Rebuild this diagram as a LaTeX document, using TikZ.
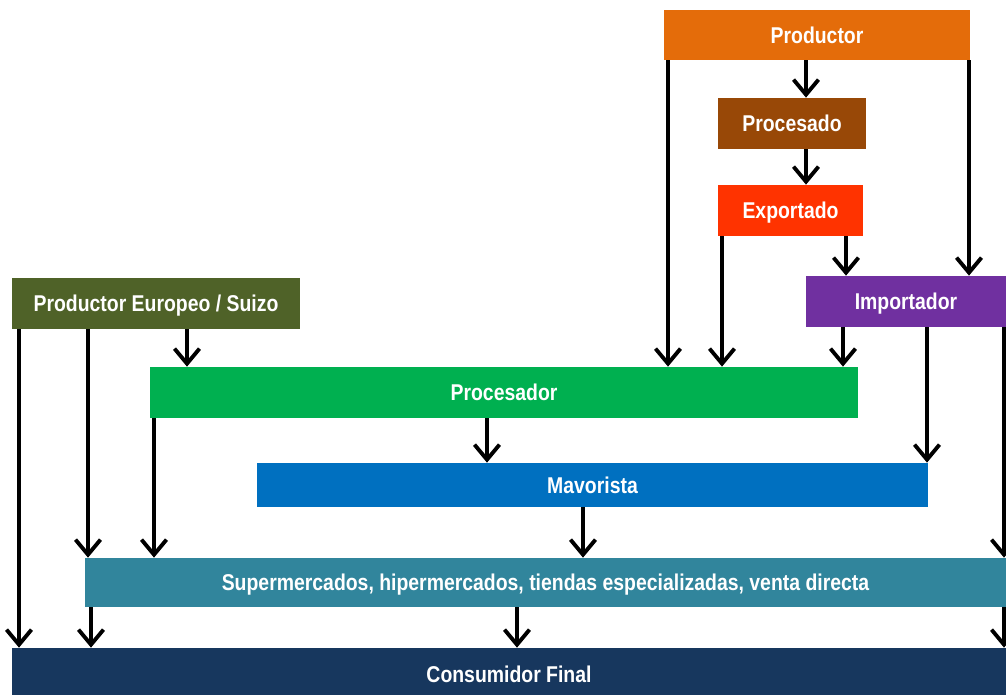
\documentclass[tikz,border=0pt]{standalone}
\usepackage{fontspec}
\setmainfont{Liberation Sans}[FakeStretch=0.85]
\usepackage{xcolor}
\usetikzlibrary{positioning,arrows.meta,calc}

\definecolor{cProd}{HTML}{E46C0A}
\definecolor{cProc}{HTML}{984807}
\definecolor{cExpo}{HTML}{FF3300}
\definecolor{cEuro}{HTML}{4F6228}
\definecolor{cImpo}{HTML}{7030A0}
\definecolor{cProcr}{HTML}{00B050}
\definecolor{cMayo}{HTML}{0070C0}
\definecolor{cSuper}{HTML}{31859C}
\definecolor{cCons}{HTML}{17375E}

\begin{document}
\begin{tikzpicture}[x=0.02cm,y=-0.02cm,
  every node/.style={rectangle,inner sep=0pt,text=white,
    font=\fontsize{13}{15}\selectfont\bfseries,text height=9.3pt,text depth=0pt},
  boxnode/.style={minimum height=51*0.02cm},
  lownode/.style={text depth=-2.6pt},
  arr/.style={draw=black,line width=2.2pt,
    -{Straight Barb[length=3mm,width=5mm,line width=2.2pt]}}
]
\useasboundingbox (0,0) rectangle (1006,694);
\clip (0,0) rectangle (1006,694);

% the boxes
\node[boxnode,fill=cProd,minimum width=306*0.02cm,minimum height=50*0.02cm] (prod) at (817,35) {Productor};
\node[boxnode,fill=cProc,minimum width=148*0.02cm] (proc) at (792,123.5) {Procesado};
\node[boxnode,fill=cExpo,minimum width=145*0.02cm] (expo) at (790.5,210.5) {Exportado};
\node[boxnode,fill=cEuro,minimum width=288*0.02cm] (euro) at (156,303.5) {Productor Europeo / Suizo};
\node[boxnode,fill=cImpo,minimum width=200*0.02cm] (impo) at (906,301.5) {Importador};
\node[boxnode,fill=cProcr,minimum width=708*0.02cm] (procr) at (504,392.5) {Procesador};
\node[boxnode,lownode,fill=cMayo,minimum width=671*0.02cm,minimum height=44*0.02cm] (mayo) at (592.5,485) {Mavorista};
\node[boxnode,lownode,fill=cSuper,minimum width=921*0.02cm,minimum height=49*0.02cm] (super) at (545.5,582.5)
  {Supermercados, hipermercados, tiendas especializadas, venta directa};
\node[boxnode,fill=cCons,minimum width=994*0.02cm,minimum height=52*0.02cm] (cons) at (509,674) {Consumidor Final};

% the arrows
\draw[arr] (prod.south -| 806,0) -- (proc.north -| 806,0);
\draw[arr] (proc.south -| 806,0) -- (expo.north -| 806,0);
\draw[arr] (expo.south -| 846,0) -- (impo.north -| 846,0);
\draw[arr] (prod.south -| 668,0) -- (procr.north -| 668,0);
\draw[arr] (prod.south -| 969,0) -- (impo.north -| 969,0);
\draw[arr] (expo.south -| 722,0) -- (procr.north -| 722,0);
\draw[arr] (impo.south -| 843,0) -- (procr.north -| 843,0);
\draw[arr] (impo.south -| 927,0) -- (mayo.north -| 927,0);
\draw[arr] (impo.south -| 1004,0) -- (super.north -| 1004,0);
\draw[arr] (euro.south -| 19,0) -- (cons.north -| 19,0);
\draw[arr] (euro.south -| 88,0) -- (super.north -| 88,0);
\draw[arr] (euro.south -| 187,0) -- (procr.north -| 187,0);
\draw[arr] (procr.south -| 154,0) -- (super.north -| 154,0);
\draw[arr] (procr.south -| 487,0) -- (mayo.north -| 487,0);
\draw[arr] (mayo.south -| 583,0) -- (super.north -| 583,0);
\draw[arr] (super.south -| 91,0) -- (cons.north -| 91,0);
\draw[arr] (super.south -| 517,0) -- (cons.north -| 517,0);
\draw[arr] (super.south -| 1004,0) -- (cons.north -| 1004,0);

\end{tikzpicture}
\end{document}
